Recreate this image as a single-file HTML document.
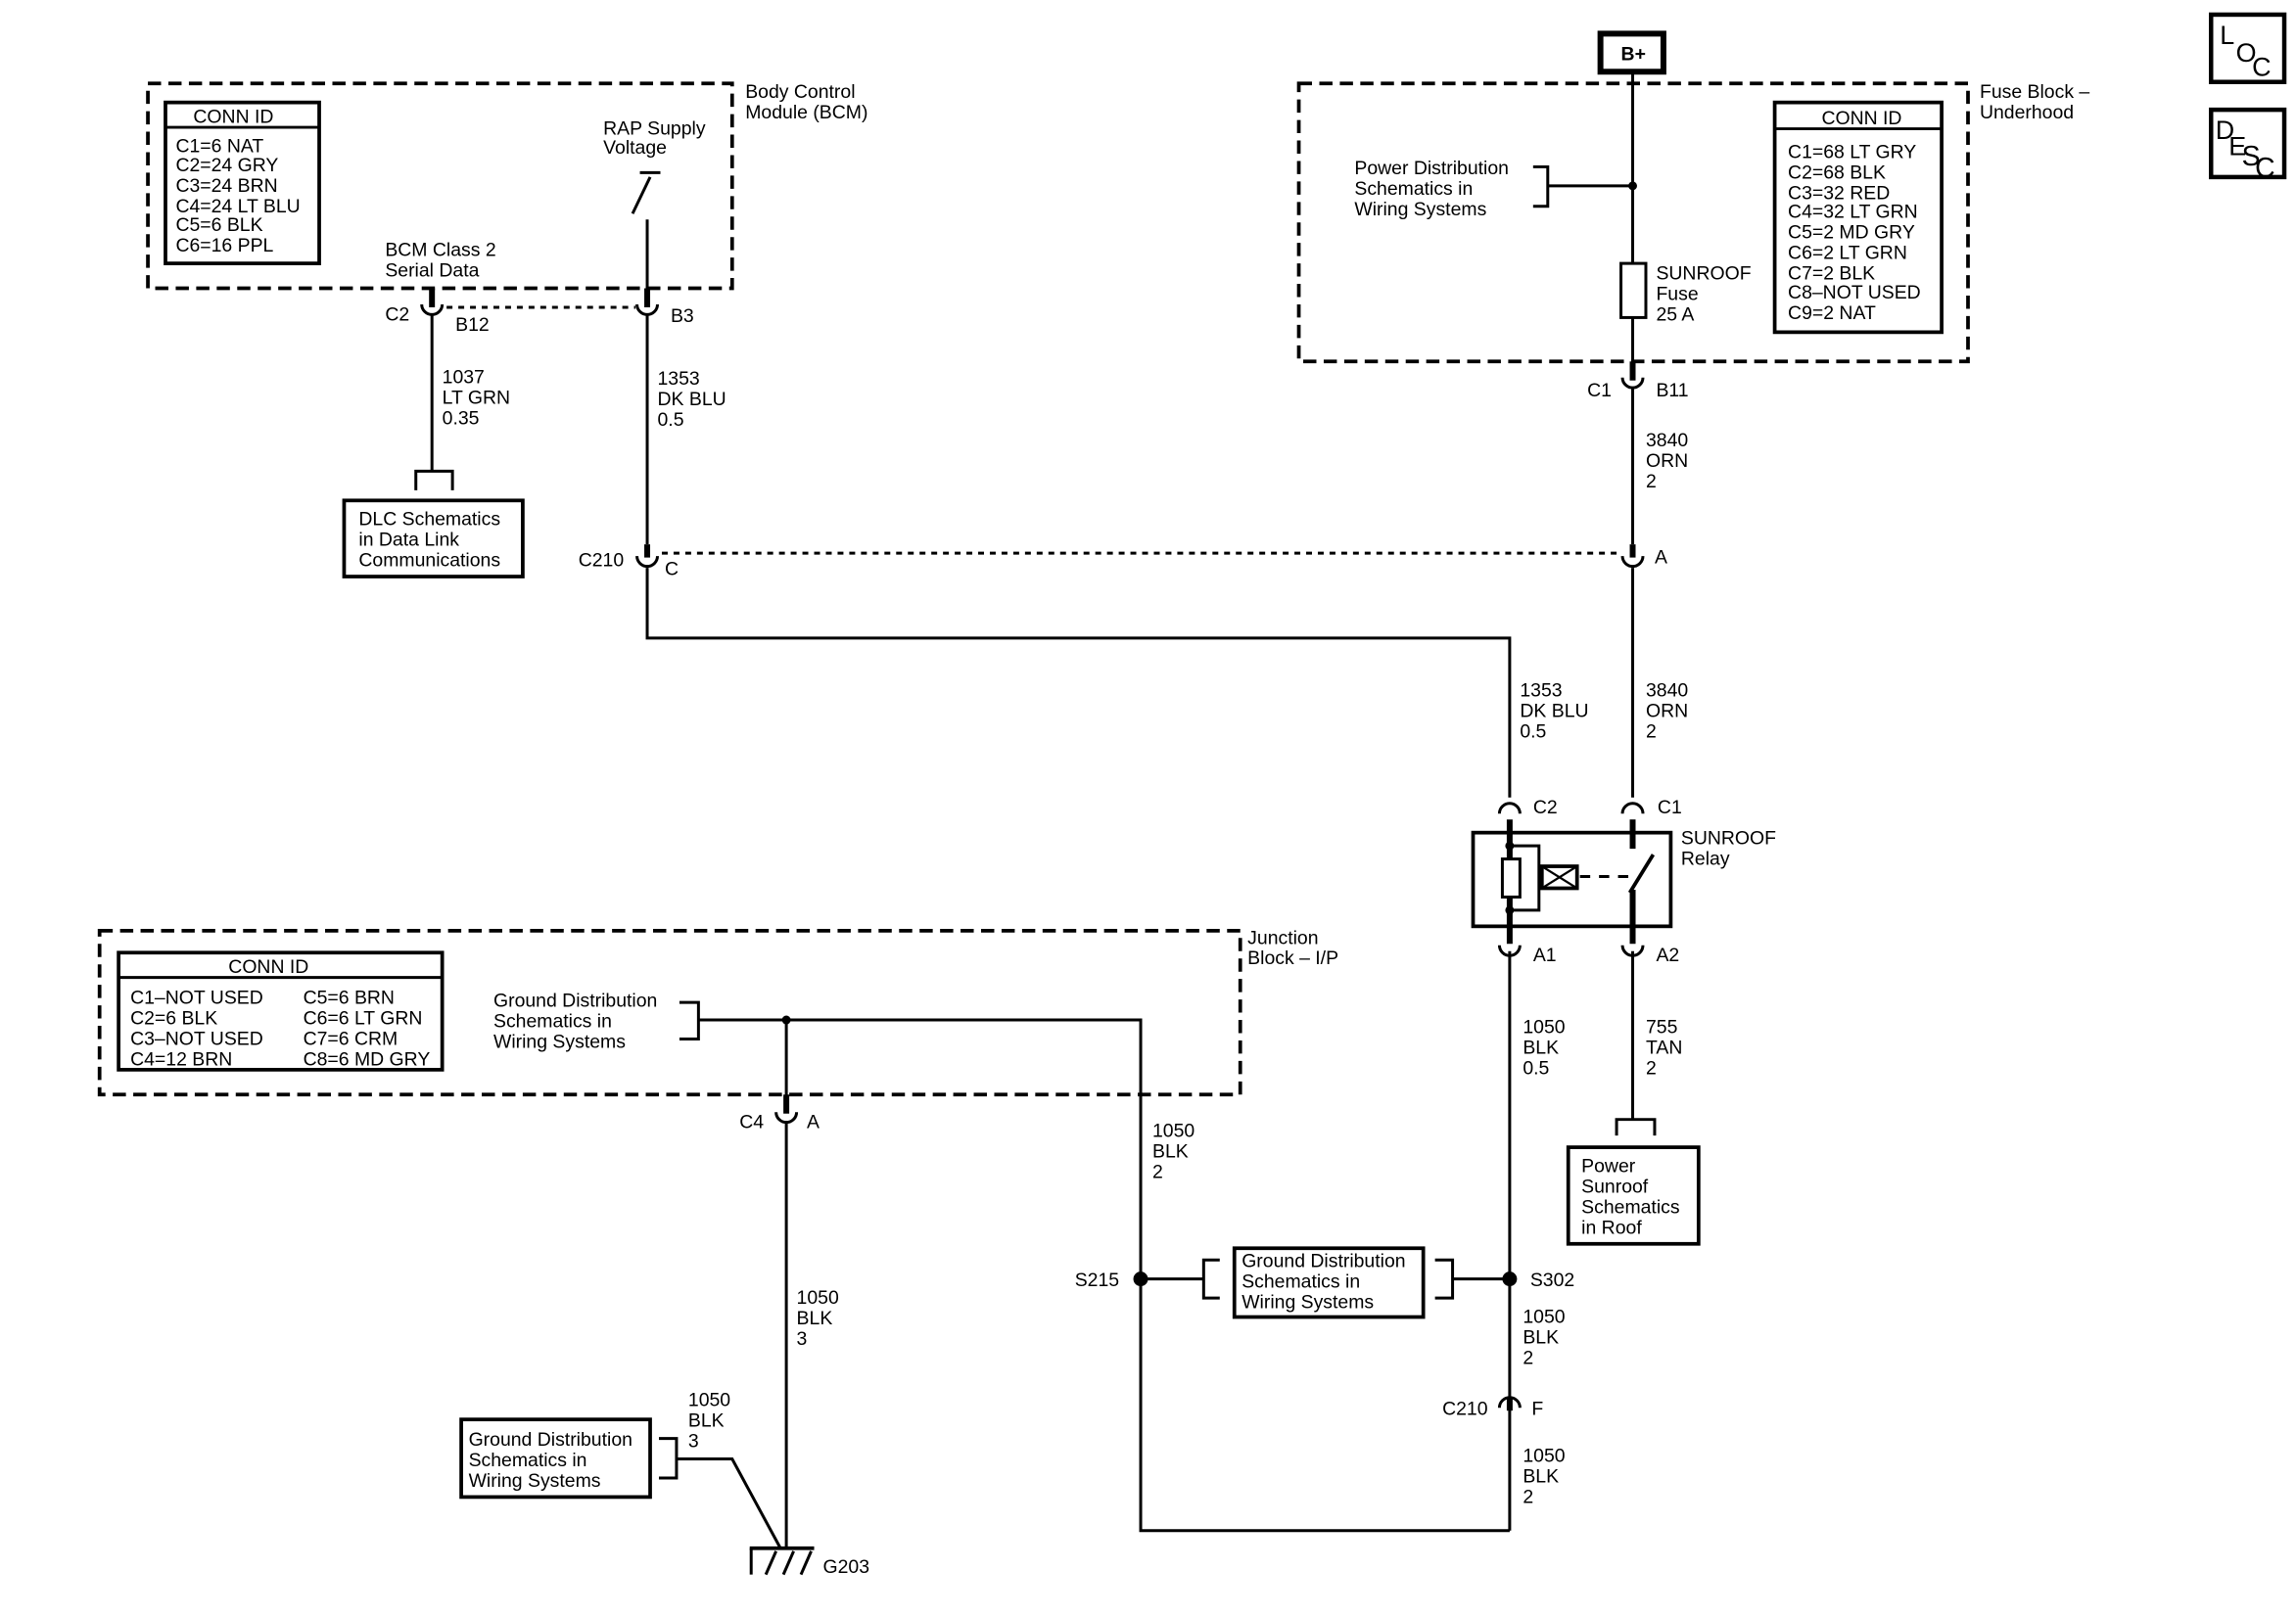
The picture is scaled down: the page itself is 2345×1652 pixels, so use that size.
<!DOCTYPE html>
<html><head><style>
html,body{margin:0;padding:0;background:#fff;}
svg{display:block;}
text{font-family:"Liberation Sans",sans-serif;font-size:13px;fill:#000;}
</style></head><body>
<svg width="2345" height="1652" viewBox="0 0 1568 1105" preserveAspectRatio="none" xmlns="http://www.w3.org/2000/svg">
<g fill="none" stroke="#000" stroke-width="2">
<rect x="101" y="57" width="399" height="140" stroke-dasharray="9,5" stroke-width="2.5"/>
<rect x="887" y="57" width="457" height="190" stroke-dasharray="9,5" stroke-width="2.5"/>
<rect x="68" y="636" width="779" height="112" stroke-dasharray="9,5" stroke-width="2.5"/>
<rect x="113" y="70" width="105" height="110" stroke-width="2.5"/><line x1="113" y1="87" x2="218" y2="87"/>
<rect x="1212" y="70" width="114" height="157" stroke-width="2.5"/><line x1="1212" y1="88" x2="1326" y2="88"/>
<rect x="81" y="651" width="221" height="80" stroke-width="2.5"/><line x1="81" y1="668" x2="302" y2="668"/>
<rect x="1510" y="10" width="50" height="46" stroke-width="3"/>
<rect x="1510" y="75" width="50" height="46" stroke-width="3"/>
<rect x="1093" y="23" width="43" height="26" stroke-width="4"/>
<line x1="432" y1="146" x2="444" y2="121"/><line x1="437" y1="118" x2="451" y2="118"/>
<line x1="442" y1="150" x2="442" y2="200"/>
<line x1="295" y1="197" x2="295" y2="210" stroke-width="4"/><path d="M288 208 A7 7 0 0 0 302 208"/>
<line x1="442" y1="197" x2="442" y2="210" stroke-width="4"/><path d="M435 208 A7 7 0 0 0 449 208"/>
<line x1="305" y1="210" x2="434" y2="210" stroke-dasharray="4,4"/>
<line x1="295" y1="215" x2="295" y2="322"/>
<polyline points="284,335 284,322 309,322 309,335"/>
<rect x="235" y="342" width="122" height="52" stroke-width="2.5"/>
<line x1="442" y1="215" x2="442" y2="372"/>
<line x1="442" y1="372" x2="442" y2="381" stroke-width="4"/><path d="M435 380 A7 7 0 0 0 449 380"/>
<line x1="452" y1="378" x2="1108" y2="378" stroke-dasharray="4,4"/>
<polyline points="442,388 442,436 1031,436 1031,545"/>
<line x1="1115" y1="49" x2="1115" y2="180"/>
<rect x="1107" y="180" width="17" height="37"/>
<line x1="1115" y1="217" x2="1115" y2="255"/>
<line x1="1115" y1="247" x2="1115" y2="260" stroke-width="4"/><path d="M1108 258 A7 7 0 0 0 1122 258"/>
<line x1="1115" y1="265" x2="1115" y2="372"/>
<line x1="1115" y1="372" x2="1115" y2="381" stroke-width="4"/><path d="M1108 380 A7 7 0 0 0 1122 380"/>
<line x1="1115" y1="388" x2="1115" y2="545"/>
<polyline points="1047,114 1057,114 1057,141 1047,141"/>
<line x1="1057" y1="127" x2="1115" y2="127"/>
<path d="M1024 556 A7 7 0 0 1 1038 556"/><path d="M1108 556 A7 7 0 0 1 1122 556"/>
<line x1="1031" y1="560" x2="1031" y2="587" stroke-width="4"/>
<line x1="1031" y1="613" x2="1031" y2="645" stroke-width="4"/>
<line x1="1115" y1="560" x2="1115" y2="580" stroke-width="4"/>
<line x1="1115" y1="608" x2="1115" y2="645" stroke-width="4"/>
<line x1="1113" y1="610" x2="1129" y2="584" stroke-width="2.5"/>
<rect x="1006" y="569" width="135" height="64" stroke-width="2.5"/>
<rect x="1026" y="587" width="12" height="26"/>
<polyline points="1031,578 1051,578 1051,622 1031,622"/>
<rect x="1053" y="592" width="24" height="15" stroke-width="2.5"/>
<path d="M1053 592 L1077 607 M1053 607 L1077 592" stroke-width="1.5"/>
<line x1="1079" y1="599" x2="1113" y2="599" stroke-dasharray="7,6"/>
<path d="M1024 646 A7 7 0 0 0 1038 646"/><path d="M1108 646 A7 7 0 0 0 1122 646"/>
<line x1="1031" y1="650" x2="1031" y2="1046"/>
<line x1="1115" y1="650" x2="1115" y2="765"/>
<polyline points="1104,776 1104,765 1130,765 1130,776"/>
<rect x="1071" y="784" width="89" height="66" stroke-width="2.5"/>
<line x1="779" y1="874" x2="822" y2="874"/><line x1="992" y1="874" x2="1031" y2="874"/>
<polyline points="833,861 822,861 822,887 833,887"/>
<polyline points="980,861 992,861 992,887 980,887"/>
<rect x="843" y="853" width="129" height="47" stroke-width="2.5"/>
<line x1="1031" y1="955" x2="1031" y2="964" stroke-width="4"/><path d="M1024 962 A7 7 0 0 1 1038 962"/>
<polyline points="1031,1046 779,1046 779,697 477,697"/>
<polyline points="464,685 477,685 477,710 464,710"/>
<line x1="537" y1="697" x2="537" y2="760"/>
<line x1="537" y1="748" x2="537" y2="761" stroke-width="4"/><path d="M530 760 A7 7 0 0 0 544 760"/>
<line x1="537" y1="766" x2="537" y2="1058"/>
<rect x="315" y="970" width="129" height="53" stroke-width="2.5"/>
<polyline points="450,983 462,983 462,1010 450,1010"/>
<polyline points="462,997 500,997 533,1058"/>
<line x1="512" y1="1058" x2="556" y2="1058" stroke-width="2.5"/>
<line x1="513" y1="1058" x2="513" y2="1076"/>
<path d="M523 1076 L530 1060 M535 1076 L542 1060 M547 1076 L554 1060"/>
</g>
<g fill="#000">
<circle cx="1115" cy="127" r="3"/><circle cx="537" cy="697" r="3"/>
<circle cx="1031" cy="578" r="3"/><circle cx="1031" cy="622" r="3"/>
<circle cx="779" cy="874" r="5"/><circle cx="1031" cy="874" r="5"/>
</g>
<text x="1107" y="41" font-weight="bold">B+</text>
<text x="1516" y="30" style="font-size:18px">L</text><text x="1527" y="42" style="font-size:18px">O</text><text x="1538" y="52" style="font-size:18px">C</text>
<text x="1513" y="95" style="font-size:18px">D</text><text x="1522" y="106" style="font-size:18px">E</text><text x="1531" y="113" style="font-size:19px">S</text><text x="1540" y="121" style="font-size:19px">C</text>
<text x="509" y="67">Body Control</text><text x="509" y="81">Module (BCM)</text>
<text x="132" y="84">CONN ID</text>
<text x="120" y="104">C1=6 NAT</text><text x="120" y="117">C2=24 GRY</text><text x="120" y="131">C3=24 BRN</text><text x="120" y="145">C4=24 LT BLU</text><text x="120" y="158">C5=6 BLK</text><text x="120" y="172">C6=16 PPL</text>
<text x="412" y="92">RAP Supply</text><text x="412" y="105">Voltage</text>
<text x="263" y="175">BCM Class 2</text><text x="263" y="189">Serial Data</text>
<text x="263" y="219">C2</text><text x="311" y="226">B12</text><text x="458" y="220">B3</text>
<text x="302" y="262">1037</text><text x="302" y="276">LT GRN</text><text x="302" y="290">0.35</text>
<text x="449" y="263">1353</text><text x="449" y="277">DK BLU</text><text x="449" y="291">0.5</text>
<text x="245" y="359">DLC Schematics</text><text x="245" y="373">in Data Link</text><text x="245" y="387">Communications</text>
<text x="395" y="387">C210</text><text x="454" y="393">C</text>
<text x="1352" y="67">Fuse Block –</text><text x="1352" y="81">Underhood</text>
<text x="1244" y="85">CONN ID</text>
<text x="1221" y="108">C1=68 LT GRY</text><text x="1221" y="122">C2=68 BLK</text><text x="1221" y="136">C3=32 RED</text><text x="1221" y="149">C4=32 LT GRN</text><text x="1221" y="163">C5=2 MD GRY</text><text x="1221" y="177">C6=2 LT GRN</text><text x="1221" y="191">C7=2 BLK</text><text x="1221" y="204">C8–NOT USED</text><text x="1221" y="218">C9=2 NAT</text>
<text x="925" y="119">Power Distribution</text><text x="925" y="133">Schematics in</text><text x="925" y="147">Wiring  Systems</text>
<text x="1131" y="191">SUNROOF</text><text x="1131" y="205">Fuse</text><text x="1131" y="219">25 A</text>
<text x="1084" y="271">C1</text><text x="1131" y="271">B11</text>
<text x="1124" y="305">3840</text><text x="1124" y="319">ORN</text><text x="1124" y="333">2</text>
<text x="1130" y="385">A</text>
<text x="1038" y="476">1353</text><text x="1038" y="490">DK BLU</text><text x="1038" y="504">0.5</text>
<text x="1124" y="476">3840</text><text x="1124" y="490">ORN</text><text x="1124" y="504">2</text>
<text x="1047" y="556">C2</text><text x="1132" y="556">C1</text>
<text x="1148" y="577">SUNROOF</text><text x="1148" y="591">Relay</text>
<text x="1047" y="657">A1</text><text x="1131" y="657">A2</text>
<text x="1040" y="706">1050</text><text x="1040" y="720">BLK</text><text x="1040" y="734">0.5</text>
<text x="1124" y="706">755</text><text x="1124" y="720">TAN</text><text x="1124" y="734">2</text>
<text x="1080" y="801">Power</text><text x="1080" y="815">Sunroof</text><text x="1080" y="829">Schematics</text><text x="1080" y="843">in Roof</text>
<text x="852" y="645">Junction</text><text x="852" y="659">Block – I/P</text>
<text x="156" y="665">CONN ID</text>
<text x="89" y="686">C1–NOT USED</text><text x="89" y="700">C2=6 BLK</text><text x="89" y="714">C3–NOT USED</text><text x="89" y="728">C4=12 BRN</text>
<text x="207" y="686">C5=6 BRN</text><text x="207" y="700">C6=6 LT GRN</text><text x="207" y="714">C7=6 CRM</text><text x="207" y="728">C8=6 MD GRY</text>
<text x="337" y="688">Ground Distribution</text><text x="337" y="702">Schematics in</text><text x="337" y="716">Wiring Systems</text>
<text x="505" y="771">C4</text><text x="551" y="771">A</text>
<text x="787" y="777">1050</text><text x="787" y="791">BLK</text><text x="787" y="805">2</text>
<text x="734" y="879">S215</text><text x="1045" y="879">S302</text>
<text x="848" y="866">Ground Distribution</text><text x="848" y="880">Schematics in</text><text x="848" y="894">Wiring Systems</text>
<text x="1040" y="904">1050</text><text x="1040" y="918">BLK</text><text x="1040" y="932">2</text>
<text x="985" y="967">C210</text><text x="1046" y="967">F</text>
<text x="1040" y="999">1050</text><text x="1040" y="1013">BLK</text><text x="1040" y="1027">2</text>
<text x="544" y="891">1050</text><text x="544" y="905">BLK</text><text x="544" y="919">3</text>
<text x="470" y="961">1050</text><text x="470" y="975">BLK</text><text x="470" y="989">3</text>
<text x="320" y="988">Ground Distribution</text><text x="320" y="1002">Schematics in</text><text x="320" y="1016">Wiring Systems</text>
<text x="562" y="1075">G203</text>
</svg>
</body></html>
